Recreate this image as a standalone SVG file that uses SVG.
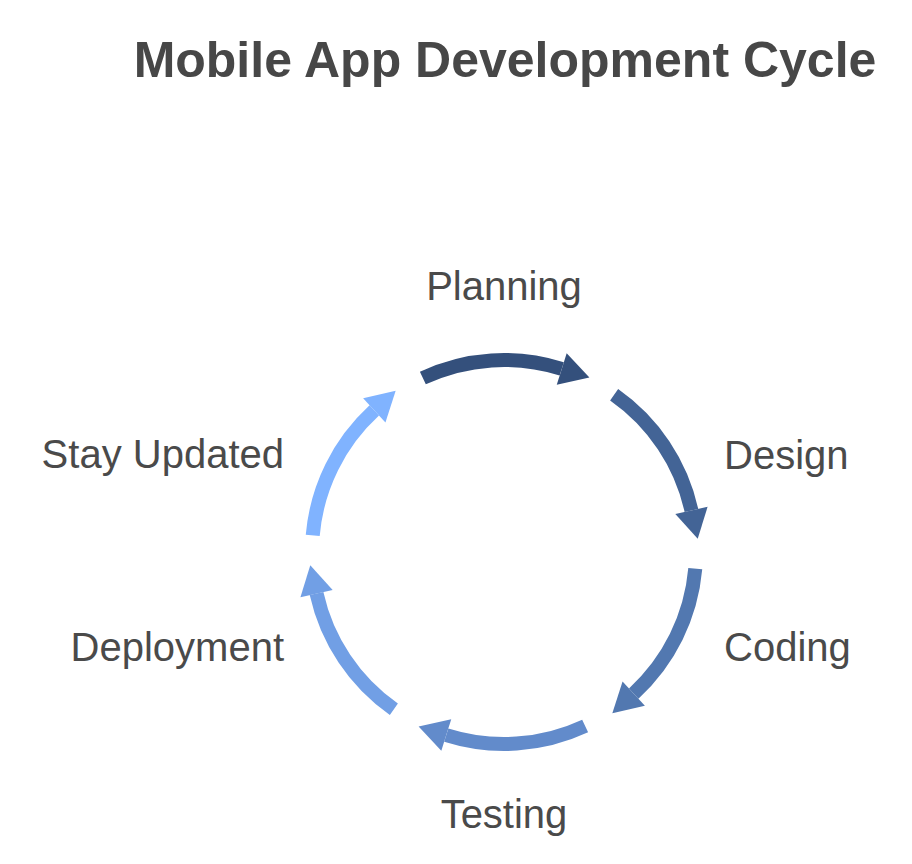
<svg xmlns="http://www.w3.org/2000/svg" width="912" height="864" viewBox="0 0 912 864">
<style>
.title{font-family:"Liberation Sans",Arial,sans-serif;font-size:50px;font-weight:bold;fill:#474747}
.lbl{font-family:"Liberation Sans",Arial,sans-serif;font-size:40px;fill:#4a4a4a}
.shaft{fill:none;stroke-width:14;stroke-linecap:butt}
</style>
<rect width="912" height="864" fill="#ffffff"/>
<text class="title" x="505" y="77" text-anchor="middle">Mobile App Development Cycle</text>
<g id="connectors">
<g id="arrow-planning">
<path class="shaft" stroke="#34507c" d="M422.86,377.99 A192,192 0 0 1 561.74,368.89"/>
<polygon fill="#34507c" points="566.70,353.15 589.40,377.60 556.78,384.63"/>
</g>
<g id="arrow-design">
<path class="shaft" stroke="#436496" d="M614.13,394.72 A192,192 0 0 1 691.45,510.44"/>
<polygon fill="#436496" points="707.56,506.87 697.73,538.75 675.34,514.01"/>
</g>
<g id="arrow-coding">
<path class="shaft" stroke="#5278b0" d="M695.27,568.73 A192,192 0 0 1 633.71,693.56"/>
<polygon fill="#5278b0" points="644.86,705.73 612.33,713.15 622.56,681.39"/>
</g>
<g id="arrow-testing">
<path class="shaft" stroke="#628bcb" d="M585.14,726.01 A192,192 0 0 1 446.26,735.11"/>
<polygon fill="#628bcb" points="441.30,750.85 418.60,726.39 451.22,719.37"/>
</g>
<g id="arrow-deployment">
<path class="shaft" stroke="#719fe5" d="M393.87,709.28 A192,192 0 0 1 316.55,593.56"/>
<polygon fill="#719fe5" points="300.44,597.13 310.27,565.25 332.66,589.99"/>
</g>
<g id="arrow-stay">
<path class="shaft" stroke="#80b3ff" d="M312.73,535.27 A192,192 0 0 1 374.29,410.44"/>
<polygon fill="#80b3ff" points="363.14,398.27 395.67,390.85 385.44,422.61"/>
</g>
</g>
<g id="node-planning"><text class="lbl" x="504" y="300" text-anchor="middle">Planning</text></g>
<g id="node-design"><text class="lbl" x="724" y="469">Design</text></g>
<g id="node-coding"><text class="lbl" x="724" y="661">Coding</text></g>
<g id="node-testing"><text class="lbl" x="504" y="828" text-anchor="middle">Testing</text></g>
<g id="node-deployment"><text class="lbl" x="284" y="661" text-anchor="end">Deployment</text></g>
<g id="node-stay"><text class="lbl" x="284" y="468" text-anchor="end">Stay Updated</text></g>
</svg>
